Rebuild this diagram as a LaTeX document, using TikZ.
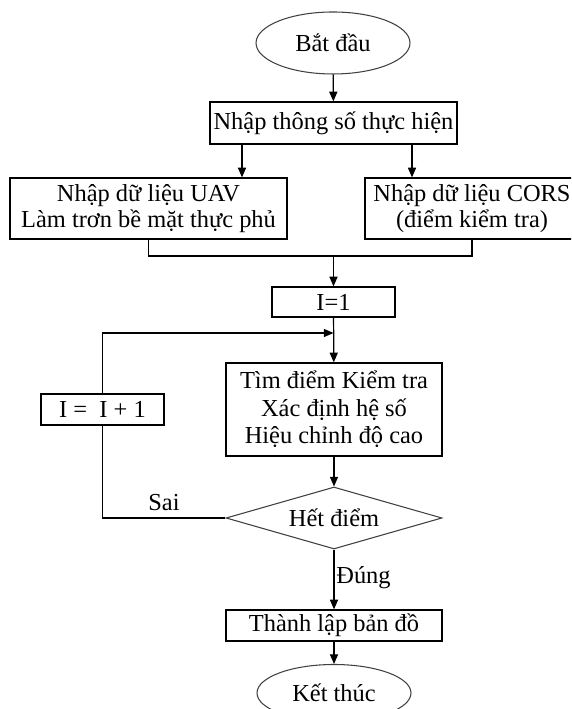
\documentclass[tikz,border=0pt]{standalone}
\usepackage{fontspec}
\setmainfont{Liberation Serif}
\usepackage{tikz}
\usetikzlibrary{arrows.meta,shapes.geometric,positioning}

\begin{document}
\begin{tikzpicture}
	[font=\fontsize{13.9}{14.9}\selectfont, inner sep=0pt, line width=0.7pt,
	terminal/.style	= {ellipse, draw=black!75, line width=0.6pt, minimum width=30.8mm, minimum height=12.4mm},
	process/.style	= {rectangle, draw, align=center, minimum height=6.1mm},
	decision/.style	= {diamond, draw=black!75, line width=0.6pt, aspect=3.5, minimum width=43.2mm, minimum height=12.4mm},
	paths/.style	= {-{Stealth[length=5.5pt,width=4.6pt,inset=0pt]}},
	label/.style	= {inner sep=1pt}]

	\path[use as bounding box, clip] (0,0) rectangle (11.42,14.18);

	\node at (6.66, 13.32)	[terminal]	(start)	{Bắt đầu};
	\node at (6.67, 11.72)	[process, minimum width=49.4mm, minimum height=8.4mm]	(input)	{Nhập thông số thực hiện};

	\node at (2.97, 10.01)	[process, minimum width=55.4mm, minimum height=12.2mm]	(uav)	{Nhập dữ liệu UAV\\Làm trơn bề mặt thực phủ};
	\node at (9.44, 10.01)	[process, minimum width=42.8mm, minimum height=12.2mm]	(cors)	{Nhập dữ liệu CORS\\(điểm kiểm tra)};
	\coordinate (join) at (6.67, 9.06);

	\node at (6.67, 8.14)	[process, minimum width=24.6mm, minimum height=6mm]	(init)	{I=1};
	\coordinate (merge) at (6.67, 7.52);

	\node at (6.68, 5.99)	[process, minimum width=43.2mm, minimum height=18.6mm, font=\fontsize{13.9}{15.6}\selectfont]	(find)	{Tìm điểm Kiểm tra\\Xác định hệ số\\Hiệu chỉnh độ cao};
	\node at (2.05, 5.99)	[process, minimum width=24.6mm, minimum height=6.2mm]	(incr)	{I = \ I + 1};

	\node at (6.68, 3.82)	[decision]	(check)	{Hết điểm};
	\node at (6.68, 1.67)	[process, minimum width=43.2mm, minimum height=6.2mm]	(mapbox)	{Thành lập bản đồ};
	\node at (6.68, 0.32)	[terminal, minimum height=11.4mm]	(stop)	{Kết thúc};

	\draw [paths] (start) -- (input);
	\draw [paths] ([xshift=-18.3mm]input.south) -- ([xshift=-18.3mm]input.south |- uav.north);
	\draw [paths] ([xshift=15.7mm]input.south) -- ([xshift=15.7mm]input.south |- cors.north);

	\draw (uav.south) -- (uav.south |- join) -- (cors.south |- join) -- (cors.south);
	\draw [paths] (join) -- (init);
	\draw [paths] (init) -- (find);
	\draw [paths] (find) -- (check);

	\draw (check.west) -| node[label, above=3pt, pos=0.25] {Sai} (incr.south);
	\draw [paths] (incr.north) |- (merge);

	\draw [paths] (check) -- node[label, right, pos=0.47] {Đúng} (mapbox);
	\draw [paths] (mapbox) -- (stop);
\end{tikzpicture}
\end{document}
